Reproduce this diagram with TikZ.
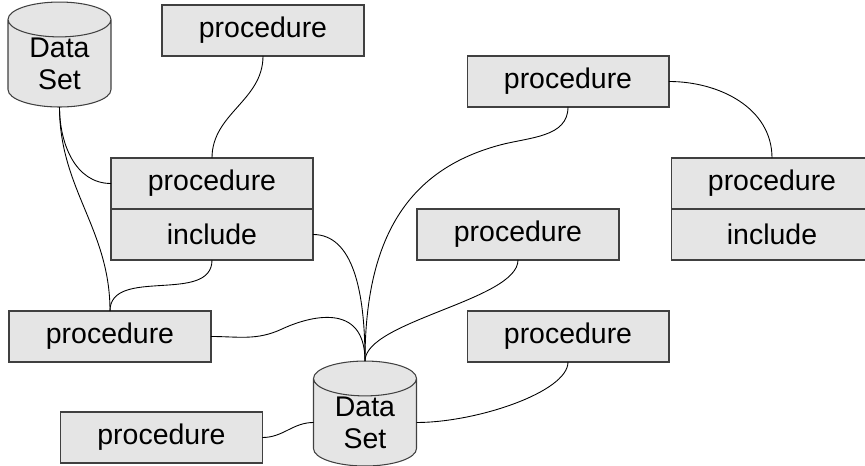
\documentclass[tikz,border=0pt]{standalone}
\usepackage{fontspec}
\setmainfont{Liberation Sans}
\usetikzlibrary{shapes.geometric,positioning}

\begin{document}
\begin{tikzpicture}[x=0.02cm,y=-0.02cm,
    proc/.style={rectangle,draw=black!75,fill=black!10,line width=0.6pt,minimum width=4.04cm,minimum height=1.02cm,inner sep=0pt,outer sep=0pt,font=\fontsize{16.2}{18.2}\selectfont},
    data set/.style={cylinder,shape border rotate=90,aspect=0.58,draw=black!75,fill=black!10,line width=0.6pt,minimum width=2.06cm,minimum height=2.1cm,inner sep=0pt,outer sep=0pt,align=center,font=\fontsize{16.2}{18.2}\selectfont},
    link/.style={black,line width=0.5pt}]
    \useasboundingbox (0,0) rectangle (865,466);

    \node[data set] (ds1) at (59.5,63.5){Data\\Set};
    \node[data set] (ds2) at (365,422.5){Data\\Set};

    \node[proc] (p1) at (263,30.5){procedure};
    \node[proc] (p2) at (212,183.5){procedure};
    \node[proc] (inc2)[below=0pt of p2]{include};
    \node[proc] (p3) at (568,81.5){procedure};
    \node[proc] (p4) at (772,183.5){procedure};
    \node[proc] (inc4)[below=0pt of p4]{include};
    \node[proc] (p5) at (518,234.5){procedure};
    \node[proc] (p6) at (110,336.5){procedure};
    \node[proc] (p7) at (568,336.5){procedure};
    \node[proc] (p8) at (161.5,437.5){procedure};

    \coordinate (bend3) at (500,145);
    \coordinate (bend6) at (282,329);

    \path[link]
        (p1.south) edge[out=-90,in=90] (p2.north)
        (ds1.south) edge[out=-90,in=180] (p2.west)
        (ds1.south) edge[out=-90,in=90] (p6.north)
        (inc2.south) edge[out=-90,in=90] (p6.north)
        (inc2.east) edge[out=0,in=90,out distance=0.8cm,in distance=1.4cm] (ds2.north)
        (p5.south) edge[out=-90,in=90,out distance=0.8cm,in distance=0.8cm] (ds2.north)
        (p7.south) edge[out=-90,in=0,out distance=0.6cm,in distance=1.2cm] (ds2.east)
        (p8.east) edge[out=0,in=180] (ds2.west)
        (p3.east) edge[out=0,in=90] (p4.north)
        ;
    \draw[link] (p3.south) to[out=-90,in=15] (bend3)
        to[out=195,in=90,out distance=1.8cm,in distance=2.6cm] (ds2.north);
    \draw[link] (p6.east) to[out=0,in=205] (bend6)
        to[out=25,in=90,out distance=0.6cm,in distance=1.2cm] (ds2.north);
\end{tikzpicture}
\end{document}
